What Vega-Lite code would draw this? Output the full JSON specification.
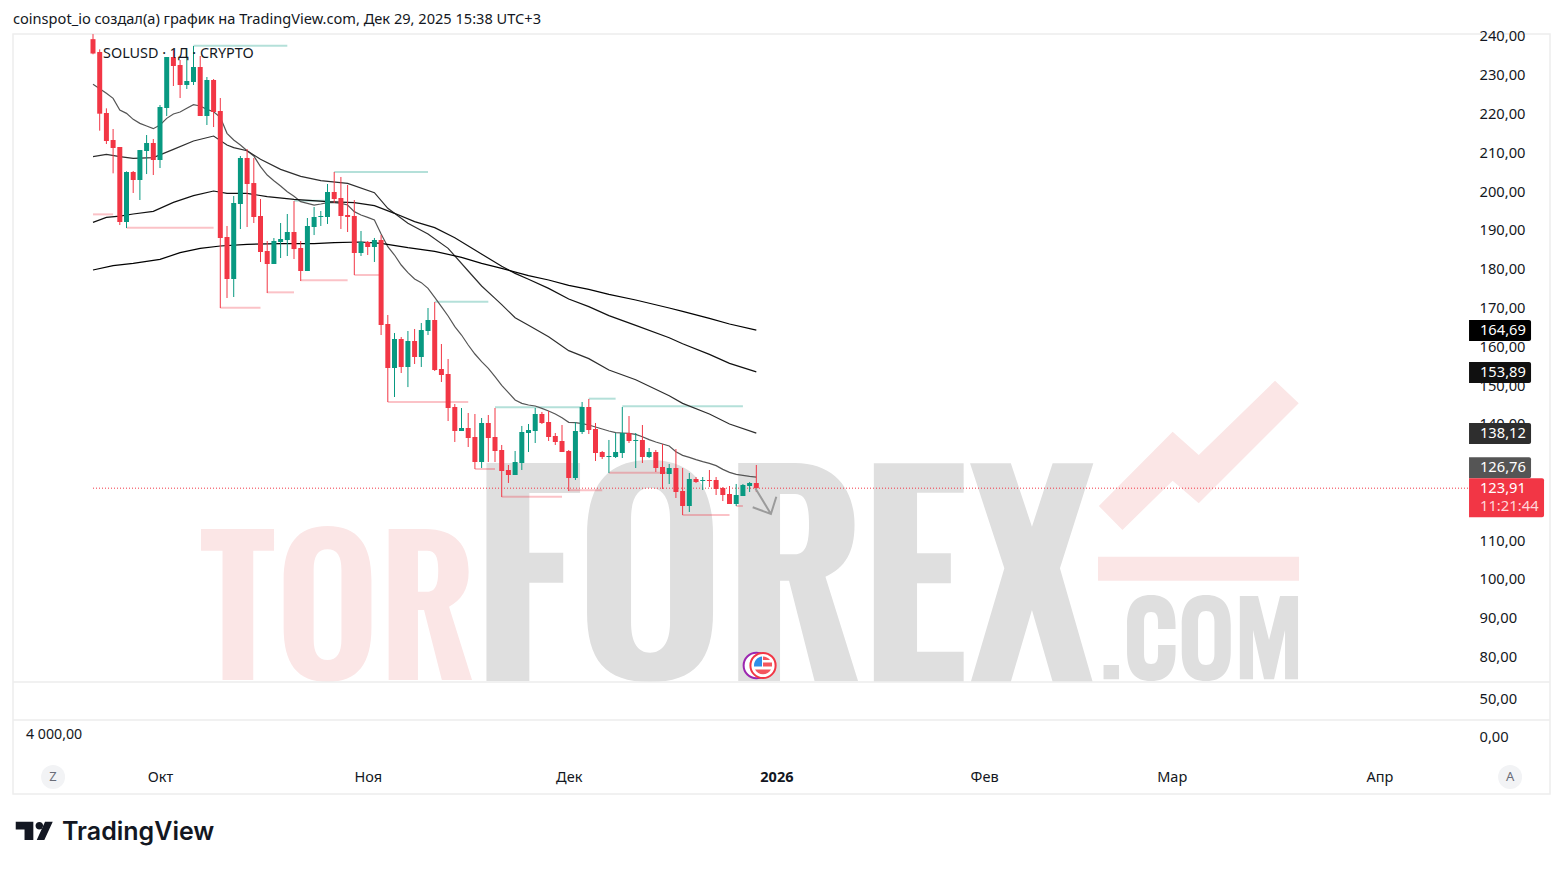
{"$schema":"https://vega.github.io/schema/vega-lite/v6.json","autosize":"none","width":1537,"height":760,"padding":{"left":13,"top":34,"right":13,"bottom":75},"background":"#ffffff","config":{"font":"Noto Sans","view":{"stroke":"#ededed","strokeWidth":1.5},"text":{"color":"#131722"}},
"title":{"text":"coinspot_io создал(а) график на TradingView.com, Дек 29, 2025 15:38 UTC+3","anchor":"start","frame":"group","fontSize":14.6,"fontWeight":"normal","font":"Noto Sans","color":"#131722","offset":6,"dy":4},
"datasets":{
"candles":[
{"date":"2025-09-21","open":239.7,"high":241,"low":235.8,"close":236.0},{"date":"2025-09-22","open":236.39,"high":237.07,"low":216.1,"close":220.48},{"date":"2025-09-23","open":220.66,"high":221.86,"low":212.66,"close":213.44},{"date":"2025-09-24","open":213.69,"high":216.53,"low":205.1,"close":211.63},{"date":"2025-09-25","open":211.89,"high":211.89,"low":191.77,"close":192.55},{"date":"2025-09-26","open":192.55,"high":205.61,"low":191.0,"close":205.44},{"date":"2025-09-27","open":205.44,"high":205.7,"low":200.03,"close":203.38},{"date":"2025-09-28","open":203.38,"high":211.11,"low":198.22,"close":211.11},{"date":"2025-09-29","open":210.86,"high":214.98,"low":204.92,"close":212.92},{"date":"2025-09-30","open":212.92,"high":213.95,"low":204.67,"close":208.54},
{"date":"2025-10-01","open":208.54,"high":222.72,"low":206.47,"close":222.2},{"date":"2025-10-02","open":221.95,"high":235.1,"low":219.88,"close":235.1},{"date":"2025-10-03","open":235.1,"high":236.9,"low":227.62,"close":232.78},{"date":"2025-10-04","open":233.03,"high":234.32,"low":224.52,"close":227.88},{"date":"2025-10-05","open":227.88,"high":237.42,"low":226.85,"close":228.91},{"date":"2025-10-06","open":228.65,"high":237.93,"low":227.88,"close":232.52},{"date":"2025-10-07","open":232.52,"high":235.35,"low":219.88,"close":219.88},{"date":"2025-10-08","open":219.88,"high":229.94,"low":217.56,"close":229.17},{"date":"2025-10-09","open":229.17,"high":229.42,"low":217.04,"close":220.91},{"date":"2025-10-10","open":221.17,"high":224.52,"low":170.37,"close":188.42},
{"date":"2025-10-11","open":188.68,"high":191.52,"low":172.95,"close":177.85},{"date":"2025-10-12","open":177.85,"high":199.25,"low":173.21,"close":197.45},{"date":"2025-10-13","open":197.19,"high":209.57,"low":190.74,"close":209.05},{"date":"2025-10-14","open":209.05,"high":211.37,"low":191.26,"close":202.35},{"date":"2025-10-15","open":202.6,"high":209.05,"low":192.29,"close":193.84},{"date":"2025-10-16","open":194.1,"high":198.48,"low":182.23,"close":184.81},{"date":"2025-10-17","open":185.07,"high":187.65,"low":174.24,"close":181.72},{"date":"2025-10-18","open":181.72,"high":188.42,"low":181.72,"close":187.65},{"date":"2025-10-19","open":187.39,"high":192.29,"low":183.26,"close":188.16},{"date":"2025-10-20","open":187.9,"high":194.61,"low":183.78,"close":189.97},
{"date":"2025-10-21","open":189.97,"high":197.96,"low":183.0,"close":185.58},{"date":"2025-10-22","open":185.84,"high":187.65,"low":177.33,"close":179.91},{"date":"2025-10-23","open":179.91,"high":193.58,"low":179.91,"close":191.52},{"date":"2025-10-24","open":191.26,"high":196.42,"low":189.19,"close":193.84},{"date":"2025-10-25","open":193.84,"high":195.39,"low":191.52,"close":194.1},{"date":"2025-10-26","open":193.84,"high":202.35,"low":192.04,"close":200.29},{"date":"2025-10-27","open":200.29,"high":205.45,"low":197.45,"close":198.48},{"date":"2025-10-28","open":198.74,"high":204.16,"low":190.75,"close":194.1},{"date":"2025-10-29","open":194.36,"high":202.09,"low":189.97,"close":193.84},{"date":"2025-10-30","open":194.1,"high":198.22,"low":178.88,"close":184.56},
{"date":"2025-10-31","open":184.56,"high":190.23,"low":183.78,"close":187.39},{"date":"2025-11-01","open":187.39,"high":187.65,"low":184.04,"close":186.1},{"date":"2025-11-02","open":186.1,"high":188.43,"low":182.24,"close":187.91},{"date":"2025-11-03","open":187.91,"high":189.2,"low":163.41,"close":165.99},{"date":"2025-11-04","open":166.25,"high":168.57,"low":146.13,"close":154.9},{"date":"2025-11-05","open":154.9,"high":163.93,"low":147.42,"close":162.38},{"date":"2025-11-06","open":162.38,"high":162.89,"low":153.61,"close":155.16},{"date":"2025-11-07","open":155.16,"high":164.44,"low":149.98,"close":161.86},{"date":"2025-11-08","open":161.86,"high":164.96,"low":155.93,"close":157.74},{"date":"2025-11-09","open":157.74,"high":166.51,"low":155.16,"close":164.7},
{"date":"2025-11-10","open":164.44,"high":170.37,"low":163.41,"close":167.28},{"date":"2025-11-11","open":167.28,"high":171.92,"low":154.13,"close":154.38},{"date":"2025-11-12","open":154.64,"high":161.09,"low":151.29,"close":153.09},{"date":"2025-11-13","open":153.35,"high":157.22,"low":141.23,"close":144.58},{"date":"2025-11-14","open":144.84,"high":145.62,"low":135.82,"close":138.65},{"date":"2025-11-15","open":138.65,"high":144.58,"low":138.65,"close":139.43},{"date":"2025-11-16","open":139.43,"high":143.3,"low":134.53,"close":136.85},{"date":"2025-11-17","open":137.11,"high":143.04,"low":128.86,"close":130.66},{"date":"2025-11-18","open":130.66,"high":142.01,"low":129.12,"close":140.72},{"date":"2025-11-19","open":140.72,"high":142.78,"low":130.66,"close":136.85},
{"date":"2025-11-20","open":137.11,"high":144.59,"low":130.66,"close":133.5},{"date":"2025-11-21","open":133.76,"high":135.05,"low":121.64,"close":128.34},{"date":"2025-11-22","open":128.6,"high":129.89,"low":125.25,"close":127.31},{"date":"2025-11-23","open":127.31,"high":133.5,"low":127.31,"close":130.66},{"date":"2025-11-24","open":130.4,"high":139.95,"low":128.6,"close":138.4},{"date":"2025-11-25","open":138.14,"high":140.46,"low":133.24,"close":138.91},{"date":"2025-11-26","open":138.66,"high":144.59,"low":135.56,"close":143.04},{"date":"2025-11-27","open":143.04,"high":143.56,"low":140.46,"close":140.72},{"date":"2025-11-28","open":140.98,"high":143.81,"low":136.08,"close":137.11},{"date":"2025-11-29","open":137.37,"high":138.14,"low":135.05,"close":135.82},
{"date":"2025-11-30","open":136.08,"high":140.2,"low":133.24,"close":133.24},{"date":"2025-12-01","open":133.5,"high":133.76,"low":123.18,"close":126.54},{"date":"2025-12-02","open":126.54,"high":140.98,"low":126.02,"close":138.66},{"date":"2025-12-03","open":138.4,"high":146.14,"low":137.88,"close":144.85},{"date":"2025-12-04","open":144.85,"high":146.91,"low":137.88,"close":138.91},{"date":"2025-12-05","open":139.17,"high":140.72,"low":130.92,"close":132.98},{"date":"2025-12-06","open":133.24,"high":133.5,"low":131.44,"close":131.95},{"date":"2025-12-07","open":131.95,"high":136.34,"low":127.83,"close":132.21},{"date":"2025-12-08","open":131.95,"high":138.14,"low":131.69,"close":133.24},{"date":"2025-12-09","open":132.98,"high":144.84,"low":131.69,"close":138.14},
{"date":"2025-12-10","open":138.14,"high":142.52,"low":135.56,"close":136.08},{"date":"2025-12-11","open":136.08,"high":138.14,"low":129.11,"close":136.33},{"date":"2025-12-12","open":136.33,"high":140.2,"low":130.4,"close":131.95},{"date":"2025-12-13","open":131.95,"high":134.27,"low":131.69,"close":133.24},{"date":"2025-12-14","open":133.24,"high":133.76,"low":128.08,"close":129.11},{"date":"2025-12-15","open":129.37,"high":135.3,"low":123.7,"close":127.57},{"date":"2025-12-16","open":127.57,"high":130.15,"low":124.99,"close":129.11},{"date":"2025-12-17","open":129.11,"high":134.01,"low":121.38,"close":122.93},{"date":"2025-12-18","open":123.18,"high":129.11,"low":116.99,"close":119.31},{"date":"2025-12-19","open":119.31,"high":127.83,"low":117.77,"close":126.28},
{"date":"2025-12-20","open":126.28,"high":126.79,"low":125.25,"close":125.5},{"date":"2025-12-21","open":125.76,"high":126.79,"low":123.44,"close":126.02},{"date":"2025-12-22","open":126.02,"high":128.6,"low":124.21,"close":125.76},{"date":"2025-12-23","open":126.02,"high":126.79,"low":122.15,"close":123.7},{"date":"2025-12-24","open":123.96,"high":124.21,"low":120.6,"close":122.15},{"date":"2025-12-25","open":122.41,"high":124.47,"low":119.83,"close":119.83},{"date":"2025-12-26","open":119.83,"high":124.99,"low":119.31,"close":122.15},{"date":"2025-12-27","open":121.89,"high":124.99,"low":121.89,"close":124.73},{"date":"2025-12-28","open":124.47,"high":125.5,"low":122.93,"close":125.25},{"date":"2025-12-29","open":125.25,"high":129.89,"low":122.93,"close":123.91}
],
"ma":[
{"date":"2025-09-21","price":228.05,"series":"MA20"},{"date":"2025-09-23","price":225.73,"series":"MA20"},{"date":"2025-09-24","price":224.44,"series":"MA20"},{"date":"2025-09-25","price":221.43,"series":"MA20"},{"date":"2025-09-26","price":220.57,"series":"MA20"},{"date":"2025-09-27","price":219.02,"series":"MA20"},{"date":"2025-09-28","price":217.99,"series":"MA20"},{"date":"2025-09-29","price":217.3,"series":"MA20"},{"date":"2025-09-30","price":216.62,"series":"MA20"},{"date":"2025-10-01","price":217.56,"series":"MA20"},{"date":"2025-10-02","price":219.28,"series":"MA20"},{"date":"2025-10-03","price":220.4,"series":"MA20"},{"date":"2025-10-04","price":220.91,"series":"MA20"},{"date":"2025-10-05","price":221.86,"series":"MA20"},{"date":"2025-10-06","price":222.8,"series":"MA20"},{"date":"2025-10-07","price":222.46,"series":"MA20"},{"date":"2025-10-08","price":221.6,"series":"MA20"},{"date":"2025-10-09","price":221.0,"series":"MA20"},{"date":"2025-10-10","price":219.54,"series":"MA20"},{"date":"2025-10-11","price":215.41,"series":"MA20"},{"date":"2025-10-12","price":213.69,"series":"MA20"},{"date":"2025-10-13","price":212.4,"series":"MA20"},{"date":"2025-10-14","price":210.94,"series":"MA20"},{"date":"2025-10-15","price":209.57,"series":"MA20"},{"date":"2025-10-16","price":206.82,"series":"MA20"},{"date":"2025-10-17","price":204.67,"series":"MA20"},{"date":"2025-10-18","price":203.21,"series":"MA20"},{"date":"2025-10-19","price":201.83,"series":"MA20"},{"date":"2025-10-20","price":200.37,"series":"MA20"},{"date":"2025-10-21","price":199.2,"series":"MA20"},{"date":"2025-10-22","price":197.8,"series":"MA20"},{"date":"2025-10-23","price":197.37,"series":"MA20"},{"date":"2025-10-24","price":196.93,"series":"MA20"},{"date":"2025-10-25","price":197.19,"series":"MA20"},{"date":"2025-10-26","price":197.54,"series":"MA20"},{"date":"2025-10-27","price":197.54,"series":"MA20"},{"date":"2025-10-28","price":197.37,"series":"MA20"},{"date":"2025-10-29","price":196.93,"series":"MA20"},{"date":"2025-10-30","price":195.22,"series":"MA20"},{"date":"2025-10-31","price":194.36,"series":"MA20"},{"date":"2025-11-01","price":193.75,"series":"MA20"},{"date":"2025-11-02","price":193.07,"series":"MA20"},{"date":"2025-11-03","price":189.46,"series":"MA20"},{"date":"2025-11-04","price":186.19,"series":"MA20"},{"date":"2025-11-05","price":184.04,"series":"MA20"},{"date":"2025-11-06","price":181.46,"series":"MA20"},{"date":"2025-11-07","price":179.49,"series":"MA20"},{"date":"2025-11-08","price":177.85,"series":"MA20"},{"date":"2025-11-09","price":176.91,"series":"MA20"},{"date":"2025-11-10","price":175.44,"series":"MA20"},{"date":"2025-11-11","price":173.12,"series":"MA20"},{"date":"2025-11-12","price":170.72,"series":"MA20"},{"date":"2025-11-13","price":168.31,"series":"MA20"},{"date":"2025-11-14","price":165.56,"series":"MA20"},{"date":"2025-11-15","price":163.41,"series":"MA20"},{"date":"2025-11-16","price":160.83,"series":"MA20"},{"date":"2025-11-17","price":158.51,"series":"MA20"},{"date":"2025-11-18","price":156.53,"series":"MA20"},{"date":"2025-11-19","price":154.81,"series":"MA20"},{"date":"2025-11-20","price":152.67,"series":"MA20"},{"date":"2025-11-21","price":150.43,"series":"MA20"},{"date":"2025-11-22","price":148.54,"series":"MA20"},{"date":"2025-11-23","price":146.65,"series":"MA20"},{"date":"2025-11-24","price":145.79,"series":"MA20"},{"date":"2025-11-25","price":145.36,"series":"MA20"},{"date":"2025-11-26","price":145.1,"series":"MA20"},{"date":"2025-11-27","price":144.5,"series":"MA20"},{"date":"2025-11-28","price":143.81,"series":"MA20"},{"date":"2025-11-29","price":143.04,"series":"MA20"},{"date":"2025-11-30","price":142.1,"series":"MA20"},{"date":"2025-12-01","price":140.89,"series":"MA20"},{"date":"2025-12-02","price":140.81,"series":"MA20"},{"date":"2025-12-03","price":140.55,"series":"MA20"},{"date":"2025-12-04","price":140.2,"series":"MA20"},{"date":"2025-12-05","price":139.69,"series":"MA20"},{"date":"2025-12-06","price":139.17,"series":"MA20"},{"date":"2025-12-07","price":138.66,"series":"MA20"},{"date":"2025-12-08","price":138.23,"series":"MA20"},{"date":"2025-12-09","price":138.14,"series":"MA20"},{"date":"2025-12-10","price":138.05,"series":"MA20"},{"date":"2025-12-11","price":137.8,"series":"MA20"},{"date":"2025-12-12","price":137.19,"series":"MA20"},{"date":"2025-12-13","price":136.42,"series":"MA20"},{"date":"2025-12-14","price":135.82,"series":"MA20"},{"date":"2025-12-15","price":135.3,"series":"MA20"},{"date":"2025-12-16","price":134.79,"series":"MA20"},{"date":"2025-12-17","price":133.33,"series":"MA20"},{"date":"2025-12-18","price":132.38,"series":"MA20"},{"date":"2025-12-19","price":131.86,"series":"MA20"},{"date":"2025-12-20","price":131.26,"series":"MA20"},{"date":"2025-12-21","price":130.75,"series":"MA20"},{"date":"2025-12-22","price":130.32,"series":"MA20"},{"date":"2025-12-23","price":129.72,"series":"MA20"},{"date":"2025-12-24","price":128.77,"series":"MA20"},{"date":"2025-12-25","price":128.0,"series":"MA20"},{"date":"2025-12-26","price":127.48,"series":"MA20"},{"date":"2025-12-27","price":127.22,"series":"MA20"},{"date":"2025-12-28","price":126.97,"series":"MA20"},{"date":"2025-12-29","price":126.76,"series":"MA20"},
{"date":"2025-09-21","price":209.4,"series":"MA50"},{"date":"2025-09-23","price":210.0,"series":"MA50"},{"date":"2025-09-25","price":209.4,"series":"MA50"},{"date":"2025-09-27","price":208.97,"series":"MA50"},{"date":"2025-09-30","price":209.14,"series":"MA50"},{"date":"2025-10-03","price":211.29,"series":"MA50"},{"date":"2025-10-06","price":213.44,"series":"MA50"},{"date":"2025-10-09","price":214.72,"series":"MA50"},{"date":"2025-10-11","price":212.4,"series":"MA50"},{"date":"2025-10-12","price":211.72,"series":"MA50"},{"date":"2025-10-14","price":210.94,"series":"MA50"},{"date":"2025-10-16","price":208.71,"series":"MA50"},{"date":"2025-10-19","price":206.13,"series":"MA50"},{"date":"2025-10-22","price":204.3,"series":"MA50"},{"date":"2025-10-25","price":203.21,"series":"MA50"},{"date":"2025-10-29","price":202.52,"series":"MA50"},{"date":"2025-11-02","price":200.12,"series":"MA50"},{"date":"2025-11-04","price":196.08,"series":"MA50"},{"date":"2025-11-07","price":192.21,"series":"MA50"},{"date":"2025-11-10","price":189.46,"series":"MA50"},{"date":"2025-11-13","price":185.76,"series":"MA50"},{"date":"2025-11-16","price":179.92,"series":"MA50"},{"date":"2025-11-18","price":176.05,"series":"MA50"},{"date":"2025-11-20","price":172.87,"series":"MA50"},{"date":"2025-11-21","price":171.23,"series":"MA50"},{"date":"2025-11-23","price":167.88,"series":"MA50"},{"date":"2025-11-25","price":165.9,"series":"MA50"},{"date":"2025-11-28","price":162.98,"series":"MA50"},{"date":"2025-12-01","price":159.37,"series":"MA50"},{"date":"2025-12-04","price":157.31,"series":"MA50"},{"date":"2025-12-07","price":154.38,"series":"MA50"},{"date":"2025-12-11","price":151.89,"series":"MA50"},{"date":"2025-12-16","price":147.76,"series":"MA50"},{"date":"2025-12-18","price":145.79,"series":"MA50"},{"date":"2025-12-22","price":143.04,"series":"MA50"},{"date":"2025-12-25","price":140.46,"series":"MA50"},{"date":"2025-12-29","price":138.12,"series":"MA50"},
{"date":"2025-09-21","price":192.46,"series":"MA100"},{"date":"2025-09-23","price":193.75,"series":"MA100"},{"date":"2025-09-25","price":194.09,"series":"MA100"},{"date":"2025-09-27","price":194.61,"series":"MA100"},{"date":"2025-09-30","price":195.3,"series":"MA100"},{"date":"2025-10-03","price":197.62,"series":"MA100"},{"date":"2025-10-06","price":199.34,"series":"MA100"},{"date":"2025-10-09","price":200.54,"series":"MA100"},{"date":"2025-10-11","price":199.94,"series":"MA100"},{"date":"2025-10-14","price":199.94,"series":"MA100"},{"date":"2025-10-17","price":199.08,"series":"MA100"},{"date":"2025-10-21","price":198.4,"series":"MA100"},{"date":"2025-10-26","price":197.79,"series":"MA100"},{"date":"2025-10-30","price":197.54,"series":"MA100"},{"date":"2025-11-02","price":196.76,"series":"MA100"},{"date":"2025-11-05","price":194.79,"series":"MA100"},{"date":"2025-11-08","price":192.64,"series":"MA100"},{"date":"2025-11-11","price":191.09,"series":"MA100"},{"date":"2025-11-14","price":188.51,"series":"MA100"},{"date":"2025-11-17","price":185.33,"series":"MA100"},{"date":"2025-11-21","price":181.12,"series":"MA100"},{"date":"2025-11-23","price":179.31,"series":"MA100"},{"date":"2025-11-25","price":177.77,"series":"MA100"},{"date":"2025-11-28","price":175.44,"series":"MA100"},{"date":"2025-12-01","price":172.69,"series":"MA100"},{"date":"2025-12-04","price":170.72,"series":"MA100"},{"date":"2025-12-07","price":168.4,"series":"MA100"},{"date":"2025-12-11","price":165.9,"series":"MA100"},{"date":"2025-12-16","price":162.72,"series":"MA100"},{"date":"2025-12-18","price":161.17,"series":"MA100"},{"date":"2025-12-22","price":158.42,"series":"MA100"},{"date":"2025-12-25","price":156.1,"series":"MA100"},{"date":"2025-12-29","price":153.89,"series":"MA100"},
{"date":"2025-09-21","price":180.17,"series":"MA200"},{"date":"2025-09-24","price":181.29,"series":"MA200"},{"date":"2025-09-27","price":181.89,"series":"MA200"},{"date":"2025-10-01","price":182.92,"series":"MA200"},{"date":"2025-10-04","price":184.64,"series":"MA200"},{"date":"2025-10-07","price":185.76,"series":"MA200"},{"date":"2025-10-10","price":186.36,"series":"MA200"},{"date":"2025-10-14","price":186.79,"series":"MA200"},{"date":"2025-10-19","price":186.96,"series":"MA200"},{"date":"2025-10-24","price":186.96,"series":"MA200"},{"date":"2025-10-27","price":187.22,"series":"MA200"},{"date":"2025-10-31","price":187.39,"series":"MA200"},{"date":"2025-11-03","price":187.05,"series":"MA200"},{"date":"2025-11-07","price":185.93,"series":"MA200"},{"date":"2025-11-11","price":184.99,"series":"MA200"},{"date":"2025-11-15","price":183.44,"series":"MA200"},{"date":"2025-11-18","price":181.89,"series":"MA200"},{"date":"2025-11-21","price":180.6,"series":"MA200"},{"date":"2025-11-25","price":178.71,"series":"MA200"},{"date":"2025-11-28","price":177.59,"series":"MA200"},{"date":"2025-12-01","price":176.22,"series":"MA200"},{"date":"2025-12-04","price":175.19,"series":"MA200"},{"date":"2025-12-07","price":173.9,"series":"MA200"},{"date":"2025-12-11","price":172.44,"series":"MA200"},{"date":"2025-12-16","price":170.37,"series":"MA200"},{"date":"2025-12-18","price":169.51,"series":"MA200"},{"date":"2025-12-22","price":167.71,"series":"MA200"},{"date":"2025-12-25","price":166.25,"series":"MA200"},{"date":"2025-12-29","price":164.69,"series":"MA200"}
],
"highs":[{"date":"2025-10-06","end":"2025-10-20","price":238.02},{"date":"2025-10-21","end":"2025-10-26","price":198.05},{"date":"2025-10-27","end":"2025-11-10","price":205.45},{"date":"2025-11-11","end":"2025-11-19","price":172.01},{"date":"2025-11-20","end":"2025-12-03","price":144.76},{"date":"2025-12-04","end":"2025-12-08","price":146.99},{"date":"2025-12-09","end":"2025-12-27","price":145.02}],
"lows":[{"date":"2025-09-21","end":"2025-09-24","price":194.52},{"date":"2025-09-26","end":"2025-10-09","price":191.09},{"date":"2025-10-10","end":"2025-10-16","price":170.46},{"date":"2025-10-17","end":"2025-10-21","price":174.41},{"date":"2025-10-22","end":"2025-10-29","price":177.51},{"date":"2025-10-30","end":"2025-11-03","price":178.88},{"date":"2025-11-04","end":"2025-11-16","price":146.13},{"date":"2025-11-17","end":"2025-11-20","price":128.86},{"date":"2025-11-21","end":"2025-11-30","price":121.72},{"date":"2025-12-01","end":"2025-12-06","price":123.36},{"date":"2025-12-07","end":"2025-12-16","price":127.91},{"date":"2025-12-18","end":"2025-12-25","price":116.99},{"date":"2025-12-26","end":"2025-12-27","price":119.31}],
"origin":[{"date":"2025-09-07T03:00:00Z","price":249.8}],
"flag":[{"date":"2025-12-30","price":78.19}]
},
"encoding":{"x":{"field":"date","type":"temporal","scale":{"type":"utc","domain":["2025-09-09T01:26:00Z","2026-04-26T11:00:00Z"],"padding":0},"axis":{"orient":"bottom","offset":-30,"title":null,"domain":false,"ticks":false,"grid":false,"labelPadding":6,"labelFontSize":14.5,"labelColor":"#131722","labelFont":"Noto Sans","labelOverlap":false,"labelFlush":false,"labelBound":false,"values":["2025-10-01","2025-11-01","2025-12-01","2026-01-01","2026-02-01","2026-03-01","2026-04-01"],"labelExpr":"['2026','Фев','Мар','Апр','','','','','','Окт','Ноя','Дек'][utcmonth(datum.value)]","labelFontWeight":{"condition":{"test":"utcmonth(datum.value)==0","value":"bold"},"value":"normal"}}}},
"layer":[
{"encoding":{"y":{"field":"price","type":"quantitative","scale":{"domain":[45.05,241.03],"nice":false,"zero":false},"axis":{"orient":"right","offset":-81,"title":null,"domain":false,"ticks":false,"grid":false,"labelPadding":10,"labelOffset":-1,"labelFontSize":14.7,"labelColor":"#131722","labelFont":"Noto Sans","labelOverlap":false,"labelFlush":false,"labelBound":false,"values":[240,230,220,210,200,190,180,170,160,150,140,130,120,110,100,90,80],"labelExpr":"replace(format(datum.value,'.2f'),'.',',')"}}},
"layer":[
{"data":{"name":"origin"},"mark":{"type":"point","shape":"M201 529H274V550.7H253.2V680H222.5V550.7H201Z M327.5 526C358 526 371.4 545 371.4 580V628C371.4 663 358 682 327.5 682C297 682 283.6 663 283.6 628V580C283.6 545 297 526 327.5 526Z M327.5 549.3C318 549.3 313.6 556 313.6 570V639C313.6 653 318 660 327.5 660C337 660 341.4 653 341.4 639V570C341.4 556 337 549.3 327.5 549.3Z M388.6 529H425C455 529 468.6 545 468.6 572C468.6 590 461 600 449 606.7L472 680H441.8L424 610H417.9V680H388.6Z M417.9 550.7V591.7H427C435 591.7 438.2 586 438.2 570C438.2 556 435 550.7 427 550.7Z M1098.8 506L1172.6 431.7L1198.7 455L1275 380.7L1298.7 403.3L1198.7 503.3L1172.6 480.7L1122.4 530Z M1098 556.7H1299V580.7H1098Z","size":4,"filled":true,"fill":"#fbe6e6","opacity":1}},
{"data":{"name":"origin"},"mark":{"type":"point","shape":"M486.4 463H580V493H529.3V552.7H563.2V582.7H529.3V681H486.4Z M650 460C695 460 713 488 713 535V612C713 660 695 682 650 682C605 682 587 660 587 612V535C587 488 605 460 650 460Z M650 488C638 488 631 497 631 520V622C631 643 638 652.7 650 652.7C662 652.7 670 643 670 622V520C670 497 662 488 650 488Z M738.2 463H795C835 463 854.5 490 854.5 525C854.5 552 845 568 825.4 576.7L858 681H814.5L789 580.7H780V681H738.2Z M780 494V554.3H795C805 554.3 809 545 809 525C809 503 805 494 795 494Z M873.8 463.3H963.6V492.7H917V553.3H950.8V583.3H917V651.7H963.6V681.7H873.8Z M970 463.3H1010.8L1031.9 526.7L1052.6 463.3H1093.3L1059.9 568.3L1092.6 681.7H1052.6L1031.9 610L1010.8 681.7H970.8L1004.3 568.3Z M1103.5 665H1119V679.3H1103.5Z M1151 595C1168 595 1175.5 605 1175.5 625V629H1158V622C1158 615 1156 612 1151 612C1146 612 1144 615 1144 622V654C1144 661 1146 664 1151 664C1156 664 1158 661 1158 654V645H1175.5V651C1175.5 671 1168 681 1151 681C1134 681 1127 671 1127 651V625C1127 605 1134 595 1151 595Z M1206 595C1223 595 1230.7 605 1230.7 625V651C1230.7 671 1223 681 1206 681C1189 681 1181.7 671 1181.7 651V625C1181.7 605 1189 595 1206 595Z M1206 611C1201 611 1198 614 1198 622V654C1198 662 1201 665 1206 665C1211 665 1214.4 662 1214.4 654V622C1214.4 614 1211 611 1206 611Z M1239.8 596H1258L1269 640L1280 596H1298V679.3H1285V630L1274 679.3H1264L1253 630V679.3H1239.8Z","size":4,"filled":true,"fill":"#dfdfdf","opacity":1}},
{"data":{"name":"highs"},"mark":{"type":"rule","stroke":"#089981","strokeWidth":2,"opacity":0.3},"encoding":{"x2":{"field":"end"}}},
{"data":{"name":"lows"},"mark":{"type":"rule","stroke":"#F23645","strokeWidth":2,"opacity":0.3},"encoding":{"x2":{"field":"end"}}},
{"data":{"values":[{"date":"2025-09-21","end":"2026-04-14T09:00:00Z","price":123.91}]},"mark":{"type":"rule","stroke":"#F23645","strokeWidth":1,"strokeDash":[1,2]},"encoding":{"x2":{"field":"end"}}},
{"data":{"name":"ma"},"mark":{"type":"line","strokeWidth":1.2},"encoding":{"color":{"field":"series","type":"nominal","legend":null,"scale":{"domain":["MA20","MA50","MA100","MA200","Close"],"range":["#555555","#2e2e2e","#101010","#000000","#F23645"]}}}},
{"data":{"name":"candles"},"mark":{"type":"rule","strokeWidth":1},"encoding":{"y":{"field":"low","type":"quantitative","axis":{"orient":"right","offset":-81,"title":null,"domain":false,"ticks":false,"grid":false,"labelPadding":10,"labelOffset":-1,"labelFontSize":14.7,"labelColor":"#131722","labelFont":"Noto Sans","labelOverlap":false,"labelFlush":false,"labelBound":false,"values":[240,230,220,210,200,190,180,170,160,150,140,130,120,110,100,90,80],"labelExpr":"replace(format(datum.value,'.2f'),'.',',')"}},"y2":{"field":"high"},"stroke":{"condition":{"test":"datum.close>=datum.open","value":"#089981"},"value":"#F23645"}}},
{"data":{"name":"candles"},"mark":{"type":"bar","width":5,"orient":"vertical"},"encoding":{"y":{"field":"open","type":"quantitative","axis":{"orient":"right","offset":-81,"title":null,"domain":false,"ticks":false,"grid":false,"labelPadding":10,"labelOffset":-1,"labelFontSize":14.7,"labelColor":"#131722","labelFont":"Noto Sans","labelOverlap":false,"labelFlush":false,"labelBound":false,"values":[240,230,220,210,200,190,180,170,160,150,140,130,120,110,100,90,80],"labelExpr":"replace(format(datum.value,'.2f'),'.',',')"}},"y2":{"field":"close"},"fill":{"condition":{"test":"datum.close>=datum.open","value":"#089981"},"value":"#F23645"}}},
{"data":{"values":[{"date":"2025-12-29","price":123.91}]},"mark":{"type":"point","shape":"M-1 0L14.6 25.8M-3.6 19.1L14.6 25.8L20 8.5","size":4,"filled":false,"stroke":"#9b9b9b","strokeWidth":2,"opacity":1}},
{"data":{"name":"flag"},"mark":{"type":"point","shape":"M-19.4 0A12.8 12.8 0 1 0 6.2 0A12.8 12.8 0 1 0 -19.4 0Z","size":4,"filled":true,"fill":"#ffffff","stroke":"#9c27b0","strokeWidth":2,"opacity":1}},
{"data":{"name":"flag"},"mark":{"type":"point","shape":"M-12.6 0A12.6 12.6 0 1 0 12.6 0A12.6 12.6 0 1 0 -12.6 0Z","size":4,"filled":true,"fill":"#ffffff","stroke":"#F23645","strokeWidth":2,"opacity":1}},
{"data":{"name":"flag"},"mark":{"type":"point","shape":"M0 -9A9 9 0 0 1 7 -5.5H0Z M0 -3H9V1H0Z M-8 4H8A9 9 0 0 1 -8 4Z","size":4,"filled":true,"fill":"#f4565f","opacity":1}},
{"data":{"name":"flag"},"mark":{"type":"point","shape":"M-1 -9A9 9 0 0 0 -9 0V1H-1Z","size":4,"filled":true,"fill":"#2f8fe8","opacity":1}},
{"data":{"values":[{"date":"2026-04-14T09:00:00Z","price":164.69,"series":"MA200"},{"date":"2026-04-14T09:00:00Z","price":153.89,"series":"MA100"},{"date":"2026-04-14T09:00:00Z","price":138.12,"series":"MA50"}]},"mark":{"type":"point","shape":"M0 -10H60A2 2 0 0 1 62 -8V9A2 2 0 0 1 60 11H0Z","size":4,"filled":true,"opacity":1},"encoding":{"color":{"field":"series","type":"nominal","legend":null}}},
{"data":{"values":[{"date":"2026-04-14T09:00:00Z","price":126.76,"series":"MA20"}]},"mark":{"type":"point","shape":"M0 -20H60A2 2 0 0 1 62 -18V-1A2 2 0 0 1 60 1H0Z","size":4,"filled":true,"opacity":1},"encoding":{"color":{"field":"series","type":"nominal","legend":null}}},
{"data":{"values":[{"date":"2026-04-14T09:00:00Z","price":123.91,"series":"Close"}]},"mark":{"type":"point","shape":"M0 -10H73A2 2 0 0 1 75 -8V27A2 2 0 0 1 73 29H0Z","size":4,"filled":true,"opacity":1},"encoding":{"color":{"field":"series","type":"nominal","legend":null}}},
{"data":{"values":[{"date":"2026-04-16","price":164.69,"text":"164,69"},{"date":"2026-04-16","price":153.89,"text":"153,89"},{"date":"2026-04-16","price":138.12,"text":"138,12"},{"date":"2026-04-16","price":123.91,"text":"123,91"}]},"mark":{"type":"text","align":"left","baseline":"middle","font":"Noto Sans","fontSize":14.7,"fill":"#ffffff","dy":1},"encoding":{"text":{"field":"text"}}},
{"data":{"values":[{"date":"2026-04-16","price":126.76,"text":"126,76"}]},"mark":{"type":"text","align":"left","baseline":"middle","font":"Noto Sans","fontSize":14.7,"fill":"#ffffff","dy":-9},"encoding":{"text":{"field":"text"}}},
{"data":{"values":[{"date":"2026-04-16","price":123.91,"text":"11:21:44"}]},"mark":{"type":"text","align":"left","baseline":"middle","font":"Noto Sans","fontSize":14.8,"fill":"#ffd5d9","dy":19},"encoding":{"text":{"field":"text"}}},
{"data":{"values":[{"date":"2025-09-22T12:00:00Z","price":235.9,"text":"SOLUSD · 1Д · CRYPTO"}]},"mark":{"type":"text","align":"left","baseline":"middle","font":"Noto Sans","fontSize":14.4,"fill":"#131722"},"encoding":{"text":{"field":"text"}}},
{"data":{"values":[{"date":"2025-09-15T01:00:00Z","price":49.44},{"date":"2026-04-20T12:00:00Z","price":49.44}]},"mark":{"type":"point","shape":"circle","size":576,"filled":true,"fill":"#f2f3f5","opacity":1}},
{"data":{"values":[{"date":"2025-09-15T01:00:00Z","price":49.44,"text":"Z"},{"date":"2026-04-20T12:00:00Z","price":49.44,"text":"A"}]},"mark":{"type":"text","align":"center","baseline":"middle","font":"Noto Sans","fontSize":13,"fill":"#6a6d78"},"encoding":{"text":{"field":"text"}}},
{"data":{"name":"origin"},"mark":{"type":"point","shape":"M15.7 821.7H33.3V840H24.5V829.5H15.7Z M39.3 821.9A3.8 3.8 0 1 0 39.3 829.5A3.8 3.8 0 1 0 39.3 821.9Z M45 821.7H52.7L44.3 840H36.7Z","size":4,"filled":true,"fill":"#131722","opacity":1}},
{"data":{"values":[{"date":"2025-09-16T09:00:00Z","price":33.2,"text":"TradingView"}]},"mark":{"type":"text","align":"left","baseline":"alphabetic","font":"Inter","fontWeight":600,"fontSize":25,"fill":"#131722"},"encoding":{"text":{"field":"text"}}}
]},
{"encoding":{"y":{"field":"v","type":"quantitative","scale":{"domain":[-71.8,902.6],"nice":false,"zero":false},"axis":{"orient":"right","offset":-81,"title":null,"domain":false,"ticks":false,"grid":false,"labelPadding":10,"labelFontSize":14.7,"labelColor":"#131722","labelFont":"Noto Sans","labelOverlap":false,"labelFlush":false,"labelBound":false,"values":[50,0],"labelExpr":"replace(format(datum.value,'.2f'),'.',',')"}}},
"layer":[
{"data":{"values":[{"date":"2025-09-09T01:26:00Z","end":"2026-04-26T11:00:00Z","v":71.8},{"date":"2025-09-09T01:26:00Z","end":"2026-04-26T11:00:00Z","v":23.08}]},"mark":{"type":"rule","stroke":"#ededed","strokeWidth":1.5},"encoding":{"x2":{"field":"end"}}},
{"data":{"values":[{"date":"2025-09-11","v":4,"text":"4 000,00"}]},"mark":{"type":"text","align":"left","baseline":"middle","font":"Noto Sans","fontSize":14.2,"fill":"#131722"},"encoding":{"text":{"field":"text"}}}
]}
],
"resolve":{"scale":{"y":"independent"},"axis":{"y":"independent"}}
}
